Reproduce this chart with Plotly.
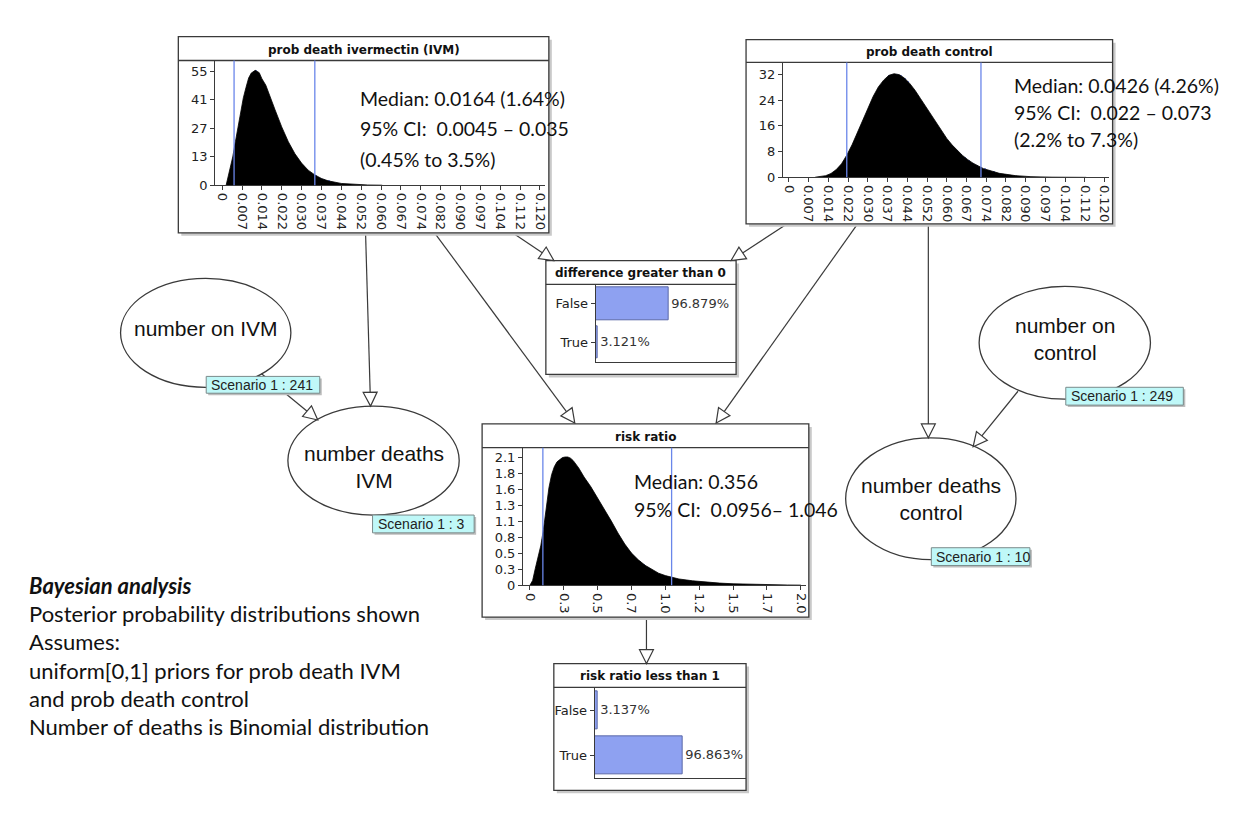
import math
import plotly.graph_objects as go

W, H = 1258, 826

# ---------------- data ----------------
# prob death ivermectin (IVM) posterior density
ivm_x = [0.0015, 0.002, 0.003, 0.004, 0.005, 0.006, 0.007, 0.008, 0.009, 0.010,
         0.011, 0.0125, 0.014, 0.015, 0.0165, 0.0175, 0.019, 0.020, 0.0225, 0.025,
         0.0275, 0.030, 0.0325, 0.035, 0.0375, 0.040, 0.045, 0.050, 0.055, 0.060, 0.0605]
ivm_y = [0, 2.8, 7.3, 13.7, 21.0, 28.8, 35.8, 42.2, 47.2, 51.8,
         54.2, 55.5, 54.4, 51.5, 48.3, 44.7, 40.0, 36.4, 28.2, 21.0,
         15.2, 10.7, 7.3, 5.0, 3.3, 2.15, 0.88, 0.35, 0.13, 0.05, 0]
ivm_ci = [0.0045, 0.035]
ivm_stripe_x = [0.0128, 0.0355, 0.0365, 0.0375, 0.0385, 0.0395, 0.0405]
ivm_stripe_y = [55.3, 4.7, 4.0, 3.3, 2.9, 2.5, 2.1]
ivm_xtick_vals = [0, 0.0075, 0.015, 0.0225, 0.03, 0.0375, 0.045, 0.0525, 0.06,
                  0.0675, 0.075, 0.0825, 0.09, 0.0975, 0.105, 0.1125, 0.12]
ivm_xtick_text = ["0", "0.007", "0.014", "0.022", "0.030", "0.037", "0.044", "0.052", "0.060",
                  "0.067", "0.074", "0.082", "0.090", "0.097", "0.104", "0.112", "0.120"]
ivm_ytick_vals = [0, 13.75, 27.5, 41.25, 55]
ivm_ytick_text = ["0", "13", "27", "41", "55"]

# prob death control posterior density
ctl_x = [0.010, 0.012, 0.014, 0.016, 0.018, 0.020, 0.022, 0.024, 0.026, 0.028,
         0.030, 0.032, 0.034, 0.036, 0.038, 0.040, 0.042, 0.044, 0.046, 0.048,
         0.050, 0.052, 0.054, 0.056, 0.058, 0.060, 0.062, 0.064, 0.066, 0.068,
         0.070, 0.074, 0.080, 0.086, 0.092, 0.100, 0.110, 0.113]
ctl_y = [0.05, 0.2, 0.52, 1.2, 2.41, 4.2, 6.9, 10.1, 13.8, 17.7,
         21.6, 25.1, 28.1, 30.2, 31.7, 32.2, 31.9, 30.8, 29.1, 27.0,
         24.5, 22.0, 19.3, 16.8, 14.3, 12.1, 10.1, 8.3, 6.8, 5.5,
         4.4, 2.7, 1.25, 0.54, 0.21, 0.06, 0.01, 0]
ctl_ci = [0.022, 0.073]
ctl_stripe_x = [0.038, 0.0395, 0.041, 0.0425, 0.044, 0.0455, 0.064, 0.0655, 0.067, 0.0685,
                0.070, 0.0715, 0.073, 0.0745, 0.076, 0.078, 0.080, 0.082]
ctl_stripe_y = [31.7, 32.1, 32.1, 31.6, 30.8, 29.8, 8.3, 7.2, 6.1, 5.2,
                4.4, 3.8, 3.2, 2.7, 2.2, 1.7, 1.25, 0.95]
ctl_xtick_vals = ivm_xtick_vals
ctl_xtick_text = ivm_xtick_text
ctl_ytick_vals = [0, 8, 16, 24, 32]
ctl_ytick_text = ["0", "8", "16", "24", "32"]

# risk ratio posterior density
rr_x = [0.0, 0.02, 0.04, 0.06, 0.08, 0.10, 0.12, 0.14, 0.16, 0.18,
        0.20, 0.22, 0.24, 0.26, 0.28, 0.30, 0.32, 0.36, 0.40, 0.45,
        0.50, 0.55, 0.60, 0.65, 0.70, 0.75, 0.80, 0.85, 0.90, 0.95,
        1.00, 1.05, 1.10, 1.20, 1.30, 1.40, 1.50, 1.60, 1.70, 1.80, 1.90, 2.00]
rr_y = [0.0, 0.08, 0.28, 0.46, 0.65, 0.92, 1.3, 1.6, 1.82, 1.95,
        2.03, 2.07, 2.1, 2.11, 2.11, 2.09, 2.05, 1.93, 1.78, 1.62,
        1.44, 1.25, 1.06, 0.86, 0.68, 0.53, 0.42, 0.33, 0.26, 0.2,
        0.16, 0.13, 0.105, 0.075, 0.052, 0.037, 0.026, 0.018, 0.012, 0.008, 0.006, 0.004]
rr_ci = [0.0956, 1.046]
rr_stripe_x = [0.24, 0.265, 0.29, 0.31, 0.66, 0.69, 0.72, 0.75, 0.78, 0.81, 0.84, 0.87,
               0.90, 0.94, 0.98, 1.02, 1.07, 1.12, 1.17, 1.22, 1.27]
rr_stripe_y = [2.1, 2.11, 2.1, 2.06, 0.82, 0.72, 0.62, 0.53, 0.46, 0.40, 0.35, 0.30,
               0.26, 0.21, 0.17, 0.145, 0.12, 0.1, 0.085, 0.07, 0.06]
rr_xtick_vals = [0, 0.25, 0.5, 0.75, 1.0, 1.25, 1.5, 1.75, 2.0]
rr_xtick_text = ["0", "0.3", "0.5", "0.7", "1.0", "1.2", "1.5", "1.7", "2.0"]
rr_ytick_vals = [0, 0.2625, 0.525, 0.7875, 1.05, 1.3125, 1.575, 1.8375, 2.1]
rr_ytick_text = ["0", "0.3", "0.5", "0.8", "1.1", "1.3", "1.6", "1.8", "2.1"]

# boolean nodes
bool_states = ["False", "True"]
diff_pct = [96.879, 3.121]
rrlt1_pct = [3.137, 96.863]

# node texts
ivm_note = ["Median: 0.0164 (1.64%)", "95% CI:  0.0045 \u2013 0.035", "(0.45% to 3.5%)"]
ctl_note = ["Median: 0.0426 (4.26%)", "95% CI:  0.022 \u2013 0.073", "(2.2% to 7.3%)"]
rr_note = ["Median: 0.356", "95% CI:  0.0956\u2013 1.046"]
footnote = ["<b><i>Bayesian analysis</i></b>",
            "Posterior probability distributions shown",
            "Assumes:",
            "uniform[0,1] priors for prob death IVM",
            "and prob death control",
            "Number of deaths is Binomial distribution"]

# ---------------- helpers (pixel -> paper) ----------------
def X(px):
    return px / W


def Y(py):
    return 1 - py / H


def dom_x(a, b):
    return [a / W, b / W]


def dom_y(top, bottom):
    return [1 - bottom / H, 1 - top / H]


def lin_range(p0, p1, a_px, a_val, b_px, b_val):
    k = (b_val - a_val) / (b_px - a_px)
    return [a_val + (p0 - a_px) * k, a_val + (p1 - a_px) * k]


LINE = "#3a3a3a"
BLUE = "#6a86ea"
BARC = "#8ea1f1"
TICKF = dict(family="DejaVu Sans", size=13, color="#222")
NOTEF = dict(family="Lato", size=19.5, color="#111")

fig = go.Figure()

# ---------------- histogram traces ----------------
hist_specs = [
    ("x", "y", ivm_x, ivm_y, ivm_stripe_x, ivm_stripe_y, 0.0006),
    ("x2", "y2", ctl_x, ctl_y, ctl_stripe_x, ctl_stripe_y, 0.0006),
    ("x3", "y3", rr_x, rr_y, rr_stripe_x, rr_stripe_y, 0.012),
]
for xa, ya, hx, hy, sx, sy, sw in hist_specs:
    fig.add_trace(go.Scatter(x=hx, y=hy, xaxis=xa, yaxis=ya, mode="lines",
                             line=dict(color="black", width=0.8), fill="tozeroy",
                             fillcolor="black", hoverinfo="skip", showlegend=False))
    fig.add_trace(go.Bar(x=sx, y=sy, xaxis=xa, yaxis=ya, width=[sw] * len(sx),
                         marker=dict(color=BARC, line=dict(width=0)),
                         hoverinfo="skip", showlegend=False))

# ---------------- boolean bar traces ----------------
for xa, ya, vals in [("x4", "y4", diff_pct), ("x5", "y5", rrlt1_pct)]:
    fig.add_trace(go.Bar(y=bool_states, x=vals, orientation="h", xaxis=xa, yaxis=ya,
                         width=0.84, marker=dict(color=BARC, line=dict(color="#5a68a8", width=1)),
                         text=[f"{v:.3f}%" for v in vals], textposition="outside",
                         textfont=dict(family="DejaVu Sans", size=13, color="#333"),
                         cliponaxis=False, constraintext="none",
                         hoverinfo="skip", showlegend=False))

# ---------------- axes ----------------
base = dict(showline=True, linecolor=LINE, linewidth=1, ticks="outside", ticklen=4,
            tickcolor=LINE, tickfont=TICKF, showgrid=False, zeroline=False, fixedrange=True)

layout_axes = {}
layout_axes["xaxis"] = dict(base, domain=dom_x(207, 538), anchor="y",
                            range=lin_range(207, 538, 214, 0, 533, 0.12),
                            tickmode="array", tickvals=ivm_xtick_vals, ticktext=ivm_xtick_text, tickangle=90)
layout_axes["yaxis"] = dict(base, domain=dom_y(53, 179), anchor="x",
                            range=lin_range(179, 53, 179, 0, 64, 55),
                            tickmode="array", tickvals=ivm_ytick_vals, ticktext=ivm_ytick_text)
layout_axes["xaxis2"] = dict(base, domain=dom_x(777, 1104), anchor="y2",
                             range=lin_range(777, 1104, 783, 0, 1100, 0.12),
                             tickmode="array", tickvals=ctl_xtick_vals, ticktext=ctl_xtick_text, tickangle=90)
layout_axes["yaxis2"] = dict(base, domain=dom_y(55, 171), anchor="x2",
                             range=lin_range(171, 55, 171, 0, 67, 32),
                             tickmode="array", tickvals=ctl_ytick_vals, ticktext=ctl_ytick_text)
layout_axes["xaxis3"] = dict(base, domain=dom_x(516, 800), anchor="y3",
                             range=lin_range(516, 800, 523, 0, 795, 2.0),
                             tickmode="array", tickvals=rr_xtick_vals, ticktext=rr_xtick_text, tickangle=90)
layout_axes["yaxis3"] = dict(base, domain=dom_y(444, 583), anchor="x3",
                             range=lin_range(583, 444, 583, 0, 454, 2.1),
                             tickmode="array", tickvals=rr_ytick_vals, ticktext=rr_ytick_text)
# boolean nodes
layout_axes["xaxis4"] = dict(base, domain=dom_x(589, 730), anchor="y4", ticks="", showticklabels=False,
                             range=lin_range(589, 730, 589, 0, 662, 96.879))
layout_axes["yaxis4"] = dict(base, domain=dom_y(279, 357), anchor="x4", type="category",
                             categoryorder="array", categoryarray=["True", "False"], range=[-0.5, 1.5],
                             tickfont=dict(family="DejaVu Sans", size=13, color="#222"))
layout_axes["xaxis5"] = dict(base, domain=dom_x(588, 740), anchor="y5", ticks="", showticklabels=False,
                             range=lin_range(588, 740, 588, 0, 676, 96.863))
layout_axes["yaxis5"] = dict(base, domain=dom_y(686, 778), anchor="x5", type="category",
                             categoryorder="array", categoryarray=["True", "False"], range=[-0.5, 1.5],
                             tickfont=dict(family="DejaVu Sans", size=13, color="#222"))

# ---------------- diagram decoration ----------------
shapes = []
annotations = []


def rect(x0, y0, x1, y1, fill="white", line=LINE, lw=1.3, layer="below"):
    shapes.append(dict(type="rect", xref="paper", yref="paper", x0=X(x0), x1=X(x1), y0=Y(y1), y1=Y(y0),
                       fillcolor=fill, line=dict(color=line, width=lw), layer=layer))


def seg(x0, y0, x1, y1, color=LINE, lw=1.2, layer="below"):
    shapes.append(dict(type="line", xref="paper", yref="paper", x0=X(x0), y0=Y(y0), x1=X(x1), y1=Y(y1),
                       line=dict(color=color, width=lw), layer=layer))


def text(px, py, s, font, xanchor="center", yanchor="middle"):
    annotations.append(dict(x=X(px), y=Y(py), xref="paper", yref="paper", text=s, showarrow=False,
                            xanchor=xanchor, yanchor=yanchor, font=font, align="center"))


# connectors (start -> tip), pixel positions of the diagram layout
connectors = [
    ((358, 228), (363, 402)),
    ((428, 228), (568, 419)),
    ((507, 228), (547, 255)),
    ((781, 218), (725, 255)),
    ((852, 218), (710, 419)),
    ((923, 218), (923, 434)),
    ((1013, 387), (968, 443)),
    ((252, 368), (310, 416)),
    ((640, 615), (640, 662)),
]
for (a, b) in connectors:
    seg(a[0], a[1], b[0], b[1])

# node boxes: (left, top, right, bottom, title bottom, title)
boxes = [
    (170, 29, 542, 227, 53, "prob death ivermectin (IVM)"),
    (740, 32, 1108, 218, 55, "prob death control"),
    (539, 255, 730, 370, 279, "difference greater than 0"),
    (475, 420, 803, 615, 444, "risk ratio"),
    (547, 662, 740, 790, 686, "risk ratio less than 1"),
]
for (l, t, r, b, tb, title) in boxes:
    rect(l + 3, t + 3, r + 3, b + 3, fill="#c9c9c9", line="rgba(0,0,0,0)", lw=0)
    rect(l, t, r, b)
    seg(l, tb, r, tb, lw=1.3)
    text((l + r) / 2, (t + tb) / 2 + 1, "<b>" + title + "</b>", dict(family="DejaVu Sans", size=12, color="#111"))

# ellipse nodes: (left, top, right, bottom, label, text centre y)
ellipses = [
    (112, 273, 283, 383, "number on IVM", 324),
    (280, 402, 452, 512, "number deaths<br>IVM", 463),
    (974, 281, 1146, 395, "number on<br>control", 334),
    (840, 434, 1011, 557, "number deaths<br>control", 496),
]
for (l, t, r, b, lab, ty) in ellipses:
    shapes.append(dict(type="circle", xref="paper", yref="paper", x0=X(l), x1=X(r), y0=Y(b), y1=Y(t),
                       fillcolor="white", line=dict(color=LINE, width=1.3), layer="below"))
    text((l + r) / 2, ty, lab, dict(family="Liberation Sans", size=21, color="#111"))

# scenario labels
scenarios = [
    (198, 372, 312, 389, "Scenario 1 : 241"),
    (365, 512, 467, 530, "Scenario 1 : 3"),
    (1061, 383, 1179, 401, "Scenario 1 : 249"),
    (926, 545, 1025, 563, "Scenario 1 : 10"),
]
for (l, t, r, b, lab) in scenarios:
    rect(l + 2, t + 2, r + 2, b + 2, fill="#bdbdbd", line="rgba(0,0,0,0)", lw=0, layer="above")
    rect(l, t, r, b, fill="#bff8f8", line="#7a8a8a", lw=1, layer="above")
    text(l + 3, (t + b) / 2, lab, dict(family="Liberation Sans", size=14, color="#222"), xanchor="left")

# arrow heads (hollow triangles)
for (a, b) in connectors:
    dx, dy = b[0] - a[0], b[1] - a[1]
    d = math.hypot(dx, dy)
    ux, uy = dx / d, dy / d
    L, hw = 14, 7
    bx, by = b[0] - ux * L, b[1] - uy * L
    nx, ny = -uy, ux
    pts = [b, (bx + nx * hw, by + ny * hw), (bx - nx * hw, by - ny * hw)]
    path = "M " + " L ".join(f"{X(p[0]):.5f},{Y(p[1]):.5f}" for p in pts) + " Z"
    shapes.append(dict(type="path", xref="paper", yref="paper", path=path, fillcolor="white",
                       line=dict(color=LINE, width=1.2), layer="above"))

# credible-interval lines on the histograms
for xa, cis in [("x", ivm_ci), ("x2", ctl_ci), ("x3", rr_ci)]:
    ya = "y" + xa[1:]
    for c in cis:
        shapes.append(dict(type="line", xref=xa, yref=ya + " domain", x0=c, x1=c, y0=0, y1=1,
                           line=dict(color=BLUE, width=1.3), layer="above"))

# notes
for i, s in enumerate(ivm_note):
    text(350, 91 + 31 * i, s, NOTEF, xanchor="left")
for i, s in enumerate(ctl_note):
    text(1007, 78 + 27.5 * i, s, NOTEF, xanchor="left")
for i, s in enumerate(rr_note):
    text(625, 478 + 28 * i, s, NOTEF, xanchor="left")
for i, s in enumerate(footnote):
    text(18, 583 + 28.5 * i, s, dict(family="Lato", size=22, color="#111"), xanchor="left")

fig.update_layout(
    width=W, height=H, autosize=False,
    margin=dict(l=0, r=0, t=0, b=0),
    paper_bgcolor="white", plot_bgcolor="rgba(0,0,0,0)",
    showlegend=False, bargap=0,
    shapes=shapes, annotations=annotations,
    **layout_axes,
)

fig.write_html("out.html")
